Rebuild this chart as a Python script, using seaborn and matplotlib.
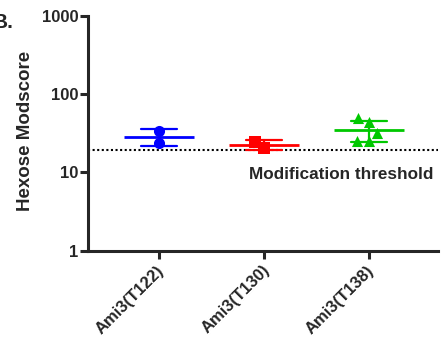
import matplotlib
matplotlib.use("Agg")
import matplotlib.pyplot as plt
import seaborn as sns
import pandas as pd
from matplotlib.transforms import blended_transform_factory, ScaledTranslation

# ---- data ----
sites = ["Ami3(T122)", "Ami3(T130)", "Ami3(T138)"]
t122 = [23.4, 33.6]
t130 = [20.2, 24.5]
t138 = [48.8, 43.4, 31.9, 25.0, 25.0]
threshold = 19.0
y_ticks = [1, 10, 100, 1000]
y_ticklabels = ["1", "10", "100", "1000"]

# ---- style ----
colors = ["#0000FF", "#FF0000", "#00C800"]
markers = ["o", "s", "^"]

sns.set_style("ticks")
plt.rcParams["font.family"] = ["Liberation Sans", "DejaVu Sans"]
plt.rcParams["font.weight"] = "bold"

values = [t122, t130, t138]
df = pd.DataFrame({
    "site": [s for s, v in zip(sites, values) for _ in v],
    "score": [x for v in values for x in v],
})

fig = plt.figure(figsize=(4.43, 3.40), dpi=100)
ax = fig.add_axes([0.1986, 0.2632, 0.7901, 0.6912])

# mean +/- SD (arithmetic, computed on linear axis)
sns.pointplot(data=df, x="site", y="score", hue="site", order=sites,
              hue_order=sites, palette=colors, errorbar="sd", capsize=0.35,
              markers="_", markersize=50, markeredgewidth=2.0,
              linestyle="none", err_kws={"linewidth": 1.6},
              dodge=False, legend=False, ax=ax)

ax.set_yscale("log")
ax.set_ylim(1, 1000)

for s, v, c, m in zip(sites, values, colors, markers):
    sns.swarmplot(x=[s] * len(v), y=v, order=sites, color=c, marker=m,
                  size=8, linewidth=0, ax=ax)

ax.set_xlim(-0.676, 2.657)
ax.axhline(threshold, color="black", lw=1.5, ls=(0, (1, 1.2)), zorder=0.5)
ax.text(0.986, 9.3, "Modification threshold", ha="right", va="center",
        fontsize=12.3, fontweight="bold",
        transform=blended_transform_factory(ax.transAxes, ax.transData))

ax.set_yticks(y_ticks)
ax.set_yticklabels(y_ticklabels)
ax.yaxis.set_minor_locator(matplotlib.ticker.NullLocator())
ax.set_xticks(range(len(sites)))
ax.set_xticklabels(sites, rotation=45, ha="right", va="center",
                   rotation_mode="anchor")
ax.tick_params(axis="both", width=2.2, length=6, labelsize=12)
ax.tick_params(axis="y", pad=1)
ax.tick_params(axis="x", pad=8, labelsize=12)
shift = ScaledTranslation(3 / 100, 2 / 100, fig.dpi_scale_trans)
for lab in ax.get_xticklabels():
    lab.set_fontweight("bold")
    lab.set_transform(lab.get_transform() + shift)
for lab in ax.get_yticklabels():
    lab.set_fontweight("bold")

ax.set_xlabel("")
ax.set_ylabel("Hexose Modscore", fontsize=13.5, fontweight="bold")
ax.yaxis.set_label_coords(-0.153, 0.51)

for side in ["top", "right"]:
    ax.spines[side].set_visible(False)
for side in ["left", "bottom"]:
    ax.spines[side].set_linewidth(2.2)

fig.text(13 / 443, 1 - 28 / 340, "B.", ha="right", va="baseline",
         fontsize=15, fontweight="bold")

fig.savefig("out.png", dpi=100)
